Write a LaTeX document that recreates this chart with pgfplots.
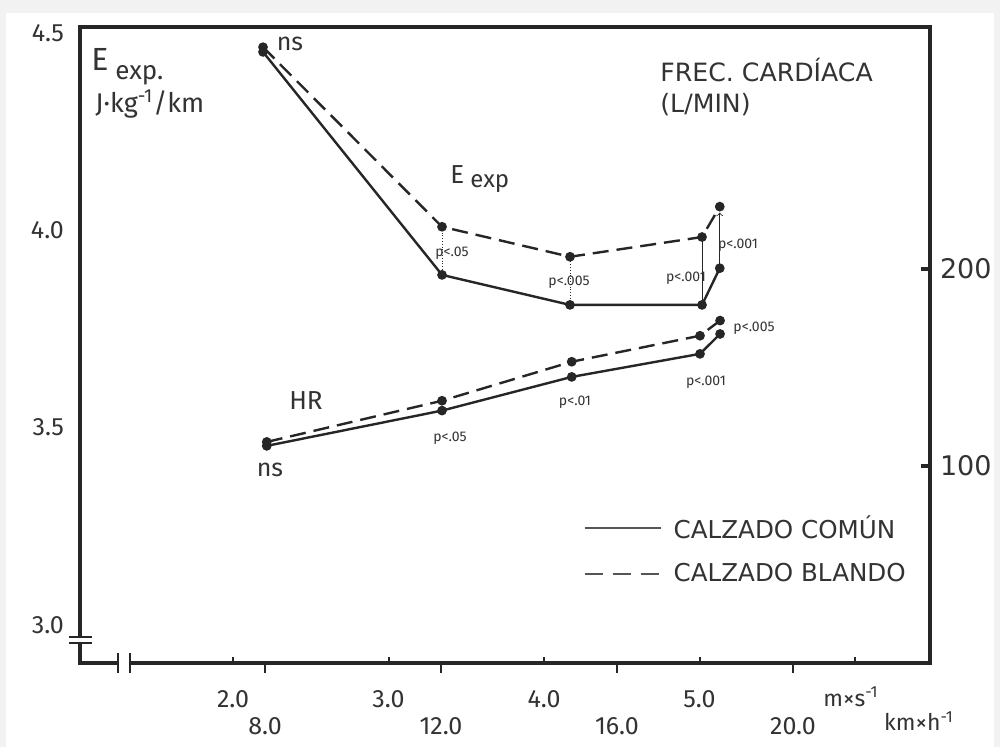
\documentclass[border=0pt]{standalone}
\usepackage{fontspec}
\setmainfont{DejaVu Sans}
\newfontfamily\scanfont{Fira Sans}
\usepackage{pgfplots}
\pgfplotsset{compat=1.18}
\definecolor{ink}{HTML}{262626}
\definecolor{scan}{HTML}{333333}
\definecolor{txt}{HTML}{333333}
\definecolor{bgg}{HTML}{F2F2F2}
\definecolor{leg}{HTML}{555555}
\tikzset{pix/.style={x=0.5pt,y=-0.5pt,shift={(-40pt,331.5pt)}},
  sc/.style={font=\scanfont\fontsize{#1}{#1}\selectfont, text=scan, inner sep=0pt},
  pv/.style={font=\scanfont\fontsize{7}{7}\selectfont, text=scan, inner sep=0pt}}
\begin{document}
\begin{tikzpicture}
\begin{scope}[pix]
  \fill[bgg] (0,0) rectangle (1000,747);
  \fill[white] (6,13) rectangle (994,747);
  \path[use as bounding box] (0,0) rectangle (1000,747);
\end{scope}
% main axis: E exp vs m/s
\begin{axis}[
  scale only axis, width=425pt, height=318pt,
  xmin=1.016, xmax=6.482, ymin=2.9037, ymax=4.5152,
  axis line style={draw=none},
  xtick={2,3,4,5,6}, xticklabels={2.0,3.0,4.0,5.0,{}},
  ytick={3,3.5,4,4.5}, yticklabels={3.0,3.5,4.0,4.5},
  xtick pos=left, ytick pos=left,
  tick align=inside, major tick length=3pt,
  x tick style={line width=1pt, color=ink},
  y tick style={draw=none},
  tick label style={font=\scanfont\fontsize{12.5}{12.5}\selectfont, text=scan},
  xticklabel style={yshift=-10pt},
  yticklabel style={xshift=-4.5pt},
  clip=false,
  legend style={draw=none, fill=none, at={(axis description cs:0.5918,0.178)}, anchor=west,
    font=\fontsize{12.3}{13}\selectfont, text=txt, row sep=7pt, column sep=4pt, inner sep=0pt,
    cells={anchor=west}},
  legend image code/.code={\draw[#1] (0pt,0pt) -- (38pt,0pt);},
]
\addlegendimage{leg, line width=1.1pt}
\addlegendentry{CALZADO COMÚN}
\addlegendimage{leg, line width=1.1pt, dash pattern=on 9pt off 5pt}
\addlegendentry{CALZADO BLANDO}
% connectors
\addplot[forget plot, ink, thin, densely dotted] coordinates {(3.344,3.90) (3.344,4.00)};
\addplot[forget plot, ink, thin, densely dotted] coordinates {(4.167,3.82) (4.167,3.925)};
\addplot[forget plot, ink, thin] coordinates {(5.016,3.82) (5.016,3.975)};
\addplot[forget plot, ink, thin, ->] coordinates {(5.13,3.915) (5.13,4.045)};
% E exp solid (calzado comun)
\addplot[forget plot, ink, line width=1.2pt, mark=*, mark size=1.8pt]
  coordinates {(2.193,4.452) (3.344,3.887) (4.167,3.811) (5.016,3.811) (5.13,3.904)};
% E exp dashed (calzado blando)
\addplot[forget plot, ink, line width=1.2pt, dash pattern=on 8pt off 4pt, mark=*, mark size=1.8pt,
  mark options={solid}]
  coordinates {(2.193,4.464) (3.344,4.009) (4.167,3.933) (5.016,3.983) (5.13,4.060)};
\end{axis}
% km/h tick axis
\begin{axis}[
  scale only axis, width=425pt, height=318pt,
  xmin=3.795, xmax=23.114, ymin=0, ymax=1,
  axis line style={draw=none}, ytick=\empty,
  xtick={8,12,16,20}, xticklabels={8.0,12.0,16.0,20.0},
  xtick pos=left, tick align=outside, major tick length=5pt,
  x tick style={line width=1pt, color=ink},
  tick label style={font=\scanfont\fontsize{12.5}{12.5}\selectfont, text=scan},
  xticklabel style={yshift=-18.5pt},
]
\end{axis}
% HR axis
\begin{axis}[
  scale only axis, width=425pt, height=318pt,
  xmin=1.016, xmax=6.482, ymin=0, ymax=322.8,
  axis line style={draw=none}, xtick=\empty,
  ytick={100,200}, ytick pos=right,
  tick align=inside, major tick length=4.5pt,
  y tick style={line width=1.6pt, color=ink},
  yticklabel style={font=\fontsize{13.5}{14}\selectfont, text=txt, xshift=1.5pt},
  /pgf/number format/assume math mode=true,
  clip=false,
]
\addplot[ink, line width=1.2pt, mark=*, mark size=1.8pt]
  coordinates {(2.217,110.2) (3.344,128.1) (4.178,145.2) (5.003,156.9) (5.132,167.0)};
\addplot[ink, line width=1.2pt, dash pattern=on 8pt off 4pt, mark=*, mark size=1.8pt, mark options={solid}]
  coordinates {(2.217,112.2) (3.344,133.1) (4.178,152.9) (5.003,166.1) (5.132,173.8)};
\end{axis}
\begin{scope}[pix]
  % frame with breaks
  \draw[ink, line width=2.4pt] (80,637) -- (80,27) -- (930,27) -- (930,663) -- (130,663);
  \draw[ink, line width=2.4pt] (118,663) -- (80,663) -- (80,643);
  \draw[ink, line width=1.3pt] (69,637) -- (92,637) (69,643) -- (92,643)
       (118,653) -- (118,673) (130,653) -- (130,673);
  % labels
  \node[sc=16, anchor=base west] at (91,71) {E};
  \node[sc=13, anchor=base west] at (115,80) {exp.};
  \node[sc=13.5, anchor=base west] at (95,113) {J·kg\textsuperscript{-1}/km};
  \node[sc=13, anchor=base west] at (450,184) {E};
  \node[sc=12, anchor=base west] at (470,188) {exp};
  \node[sc=13] at (306,401) {HR};
  \node[sc=12.5] at (290,44) {ns};
  \node[sc=12.5] at (270,470) {ns};
  \node[sc=11.5] at (851,697) {m×s\textsuperscript{-1}};
  \node[sc=11.5] at (919,721) {km×h\textsuperscript{-1}};
  \node[pv] at (452,253) {p<.05};
  \node[pv] at (569,282) {p<.005};
  \node[pv] at (686,278) {p<.001};
  \node[pv] at (738,245) {p<.001};
  \node[pv] at (450,438) {p<.05};
  \node[pv] at (575,402) {p<.01};
  \node[pv] at (706,382) {p<.001};
  \node[pv] at (754,328) {p<.005};
  \node[font=\fontsize{12.6}{13}\selectfont, text=txt, inner sep=0pt, anchor=base west] at (660,82) {FREC. CARDÍACA};
  \node[font=\fontsize{12.6}{13}\selectfont, text=txt, inner sep=0pt, anchor=base west] at (660,113) {(L/MIN)};
\end{scope}
\end{tikzpicture}
\end{document}
